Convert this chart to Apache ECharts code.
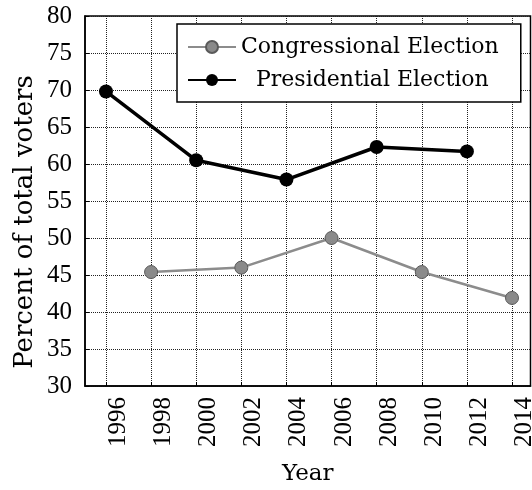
<!DOCTYPE html>
<html>
<head>
<meta charset="utf-8">
<script src="https://cdn.jsdelivr.net/npm/echarts@6/dist/echarts.min.js"></script>
<style>
  body { margin: 0; background: #fff; }
  #myChart { width: 532px; height: 490px; }
</style>
</head>
<body>
<div id="myChart"></div>
<script>
// years shown on the x axis
var yearTicks = [1996, 1998, 2000, 2002, 2004, 2006, 2008, 2010, 2012, 2014];

// presidential elections
var presYears = [1996, 2000, 2004, 2008, 2012];
var presValues = [69.8, 60.5, 57.9, 62.3, 61.7];

// congressional (midterm) elections
var congYears = [1998, 2002, 2006, 2010, 2014];
var congValues = [45.4, 46.0, 50.0, 45.4, 41.9];

var serif = '"DejaVu Serif", serif';
var tickFont = '"Liberation Serif", serif';

function pairs(xs, ys) {
    var out = [];
    for (var i = 0; i < xs.length; i++) {
        out.push([xs[i], ys[i]]);
    }
    return out;
}

var myChart = echarts.init(document.querySelector('#myChart'));

var option = {
    animation: false,
    backgroundColor: '#fff',
    grid: {
        left: 85,
        right: 1.5,
        top: 16,
        bottom: 104,
        outerBoundsMode: 'none',
        containLabel: false,
        show: true,
        borderColor: '#000',
        borderWidth: 1.5,
        backgroundColor: 'transparent'
    },
    legend: {
        orient: 'vertical',
        left: 177,
        top: 24,
        data: ['Congressional Election', 'Presidential Election'],
        backgroundColor: '#fff',
        borderColor: '#000',
        borderWidth: 1.5,
        padding: [11, 22, 10, 10],
        itemWidth: 48,
        itemHeight: 15,
        itemGap: 9,
        textStyle: {
            fontFamily: serif,
            fontSize: 22,
            lineHeight: 24,
            color: '#000',
            rich: {
                p: {
                    fontFamily: serif,
                    fontSize: 22,
                    lineHeight: 24,
                    color: '#000',
                    padding: [0, 0, 0, 15]
                }
            }
        },
        formatter: function (name) {
            if (name === 'Presidential Election') {
                return '{p|' + name + '}';
            }
            return name;
        }
    },
    xAxis: {
        type: 'value',
        min: 1995.07,
        max: 2014.82,
        name: 'Year',
        nameLocation: 'middle',
        nameGap: 77,
        nameTextStyle: {
            fontFamily: serif,
            fontSize: 23,
            color: '#000'
        },
        axisLine: { show: true, lineStyle: { color: '#000', width: 1.5 } },
        axisTick: {
            show: true,
            inside: true,
            length: 4,
            customValues: yearTicks,
            lineStyle: { color: '#000' }
        },
        axisLabel: {
            rotate: 90,
            margin: 11,
            verticalAlign: 'top',
            customValues: yearTicks,
            fontFamily: tickFont,
            fontSize: 25,
            color: '#000',
            formatter: function (v) {
                return String(v);
            }
        },
        splitLine: {
            show: true,
            lineStyle: { color: '#222', type: 'dotted', width: 1 }
        }
    },
    yAxis: {
        type: 'value',
        min: 30,
        max: 80,
        interval: 5,
        axisLine: { show: true, lineStyle: { color: '#000', width: 1.5 } },
        axisTick: {
            show: true,
            inside: true,
            length: 4,
            lineStyle: { color: '#000' }
        },
        axisLabel: {
            margin: 13,
            fontFamily: tickFont,
            fontSize: 25,
            color: '#000'
        },
        splitLine: {
            show: true,
            lineStyle: { color: '#222', type: 'dotted', width: 1 }
        }
    },
    graphic: [{
        type: 'text',
        x: 25,
        y: 222,
        rotation: Math.PI / 2,
        style: {
            text: 'Percent of total voters',
            fontFamily: serif,
            fontSize: 26,
            fill: '#000',
            align: 'center',
            verticalAlign: 'middle'
        }
    }],
    series: [{
        name: 'Congressional Election',
        type: 'line',
        data: pairs(congYears, congValues),
        symbol: 'circle',
        symbolSize: 13,
        lineStyle: { color: '#8c8c8c', width: 2.5 },
        itemStyle: { color: '#8a8a8a', borderColor: '#5a5a5a', borderWidth: 1 },
        z: 3
    }, {
        name: 'Presidential Election',
        type: 'line',
        data: pairs(presYears, presValues),
        symbol: 'circle',
        symbolSize: 14,
        lineStyle: { color: '#000', width: 3.5 },
        itemStyle: { color: '#000' },
        z: 4
    }]
};

myChart.setOption(option);
</script>
</body>
</html>
